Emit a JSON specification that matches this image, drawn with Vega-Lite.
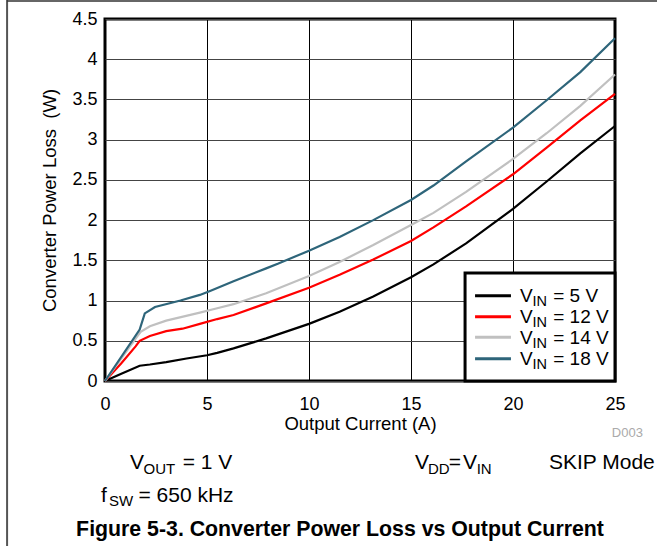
{
  "$schema": "https://vega.github.io/schema/vega-lite/v6.json",
  "width": 510,
  "height": 362,
  "autosize": {"type": "none"},
  "padding": {"left": 105, "top": 19, "right": 42, "bottom": 165},
  "background": "white",
  "config": {
    "font": "Liberation Sans",
    "view": {"stroke": "#000000", "strokeWidth": 3},
    "axis": {
      "labelColor": "#000000",
      "titleColor": "#000000",
      "labelFont": "Liberation Sans",
      "titleFont": "Liberation Sans",
      "labelFontSize": 18,
      "titleFontSize": 18.5,
      "titleFontWeight": "normal",
      "domain": false,
      "ticks": false,
      "tickSize": 0,
      "labelFlush": false,
      "grid": true
    }
  },
  "datasets": {
    "curves": [
      {"I": 0, "P": 0, "s": "VIN = 5 V"},
      {"I": 0.8, "P": 0.09, "s": "VIN = 5 V"},
      {"I": 1.7, "P": 0.19, "s": "VIN = 5 V"},
      {"I": 2.2, "P": 0.205, "s": "VIN = 5 V"},
      {"I": 3, "P": 0.235, "s": "VIN = 5 V"},
      {"I": 4, "P": 0.28, "s": "VIN = 5 V"},
      {"I": 5, "P": 0.32, "s": "VIN = 5 V"},
      {"I": 5.5, "P": 0.35, "s": "VIN = 5 V"},
      {"I": 6.3, "P": 0.405, "s": "VIN = 5 V"},
      {"I": 7.9, "P": 0.53, "s": "VIN = 5 V"},
      {"I": 10, "P": 0.71, "s": "VIN = 5 V"},
      {"I": 11.5, "P": 0.86, "s": "VIN = 5 V"},
      {"I": 13.15, "P": 1.05, "s": "VIN = 5 V"},
      {"I": 15, "P": 1.29, "s": "VIN = 5 V"},
      {"I": 16.1, "P": 1.45, "s": "VIN = 5 V"},
      {"I": 17.7, "P": 1.71, "s": "VIN = 5 V"},
      {"I": 20, "P": 2.14, "s": "VIN = 5 V"},
      {"I": 21.65, "P": 2.48, "s": "VIN = 5 V"},
      {"I": 23.3, "P": 2.83, "s": "VIN = 5 V"},
      {"I": 25, "P": 3.17, "s": "VIN = 5 V"},
      {"I": 0, "P": 0, "s": "VIN = 12 V"},
      {"I": 0.8, "P": 0.22, "s": "VIN = 12 V"},
      {"I": 1.5, "P": 0.43, "s": "VIN = 12 V"},
      {"I": 1.7, "P": 0.5, "s": "VIN = 12 V"},
      {"I": 2.2, "P": 0.56, "s": "VIN = 12 V"},
      {"I": 3, "P": 0.62, "s": "VIN = 12 V"},
      {"I": 3.8, "P": 0.65, "s": "VIN = 12 V"},
      {"I": 4.65, "P": 0.71, "s": "VIN = 12 V"},
      {"I": 5.5, "P": 0.77, "s": "VIN = 12 V"},
      {"I": 6.3, "P": 0.82, "s": "VIN = 12 V"},
      {"I": 7.9, "P": 0.965, "s": "VIN = 12 V"},
      {"I": 10, "P": 1.16, "s": "VIN = 12 V"},
      {"I": 11.5, "P": 1.32, "s": "VIN = 12 V"},
      {"I": 13.15, "P": 1.51, "s": "VIN = 12 V"},
      {"I": 15, "P": 1.74, "s": "VIN = 12 V"},
      {"I": 16.1, "P": 1.91, "s": "VIN = 12 V"},
      {"I": 17.7, "P": 2.17, "s": "VIN = 12 V"},
      {"I": 20, "P": 2.57, "s": "VIN = 12 V"},
      {"I": 21.65, "P": 2.9, "s": "VIN = 12 V"},
      {"I": 23.3, "P": 3.24, "s": "VIN = 12 V"},
      {"I": 25, "P": 3.57, "s": "VIN = 12 V"},
      {"I": 0, "P": 0, "s": "VIN = 14 V"},
      {"I": 1.6, "P": 0.56, "s": "VIN = 14 V"},
      {"I": 1.75, "P": 0.61, "s": "VIN = 14 V"},
      {"I": 2.2, "P": 0.68, "s": "VIN = 14 V"},
      {"I": 3, "P": 0.75, "s": "VIN = 14 V"},
      {"I": 4.65, "P": 0.85, "s": "VIN = 14 V"},
      {"I": 5.5, "P": 0.905, "s": "VIN = 14 V"},
      {"I": 6.3, "P": 0.955, "s": "VIN = 14 V"},
      {"I": 7.9, "P": 1.09, "s": "VIN = 14 V"},
      {"I": 10, "P": 1.305, "s": "VIN = 14 V"},
      {"I": 11.5, "P": 1.48, "s": "VIN = 14 V"},
      {"I": 13.15, "P": 1.69, "s": "VIN = 14 V"},
      {"I": 15, "P": 1.94, "s": "VIN = 14 V"},
      {"I": 16.1, "P": 2.09, "s": "VIN = 14 V"},
      {"I": 17.7, "P": 2.35, "s": "VIN = 14 V"},
      {"I": 20, "P": 2.76, "s": "VIN = 14 V"},
      {"I": 21.65, "P": 3.08, "s": "VIN = 14 V"},
      {"I": 23.3, "P": 3.42, "s": "VIN = 14 V"},
      {"I": 25, "P": 3.81, "s": "VIN = 14 V"},
      {"I": 0, "P": 0, "s": "VIN = 18 V"},
      {"I": 1.7, "P": 0.64, "s": "VIN = 18 V"},
      {"I": 1.95, "P": 0.84, "s": "VIN = 18 V"},
      {"I": 2.45, "P": 0.92, "s": "VIN = 18 V"},
      {"I": 3.7, "P": 1.0, "s": "VIN = 18 V"},
      {"I": 4.65, "P": 1.07, "s": "VIN = 18 V"},
      {"I": 5.15, "P": 1.12, "s": "VIN = 18 V"},
      {"I": 6.3, "P": 1.24, "s": "VIN = 18 V"},
      {"I": 7.9, "P": 1.4, "s": "VIN = 18 V"},
      {"I": 8.5, "P": 1.46, "s": "VIN = 18 V"},
      {"I": 10, "P": 1.62, "s": "VIN = 18 V"},
      {"I": 11.5, "P": 1.79, "s": "VIN = 18 V"},
      {"I": 13.15, "P": 2.0, "s": "VIN = 18 V"},
      {"I": 15, "P": 2.25, "s": "VIN = 18 V"},
      {"I": 16.1, "P": 2.43, "s": "VIN = 18 V"},
      {"I": 17.7, "P": 2.73, "s": "VIN = 18 V"},
      {"I": 20, "P": 3.15, "s": "VIN = 18 V"},
      {"I": 21.65, "P": 3.49, "s": "VIN = 18 V"},
      {"I": 23.3, "P": 3.84, "s": "VIN = 18 V"},
      {"I": 25, "P": 4.26, "s": "VIN = 18 V"}
    ]
  },
  "layer": [
    {
      "data": {"name": "curves"},
      "mark": {"type": "line", "strokeWidth": 2.2, "interpolate": "linear"},
      "encoding": {
        "x": {
          "field": "I", "type": "quantitative",
          "scale": {"domain": [0, 25], "nice": false, "zero": false},
          "axis": {"title": "Output Current (A)", "values": [0, 5, 10, 15, 20, 25], "gridColor": "#000000", "gridWidth": 1, "labelPadding": 14, "titlePadding": 1}
        },
        "y": {
          "field": "P", "type": "quantitative",
          "scale": {"domain": [0, 4.5], "nice": false, "zero": false},
          "axis": {"title": "Converter Power Loss\u00a0 (W)", "format": ".1~f", "values": [0, 0.5, 1, 1.5, 2, 2.5, 3, 3.5, 4, 4.5], "gridColor": "#444444", "gridWidth": 1.2, "labelPadding": 8, "titlePadding": 12}
        },
        "color": {
          "field": "s", "type": "nominal",
          "scale": {"domain": ["VIN = 5 V", "VIN = 12 V", "VIN = 14 V", "VIN = 18 V"], "range": ["#000000", "#ff0000", "#c0c0c0", "#2e657a"]},
          "legend": null
        },
        "detail": {"field": "s"}
      }
    },
    {
      "data": {"values": [{}]},
      "mark": {"type": "rect", "fill": "#ffffff", "stroke": "#000000", "strokeWidth": 3},
      "encoding": {"x": {"datum": 17.65}, "x2": {"datum": 25}, "y": {"datum": 0}, "y2": {"datum": 1.343}}
    },
    {
      "data": {"values": [{}]},
      "mark": {"type": "rule", "stroke": "#000000", "strokeWidth": 3},
      "encoding": {"x": {"datum": 18.14}, "x2": {"datum": 19.9}, "y": {"datum": 1.06}}
    },
    {
      "data": {"values": [{}]},
      "mark": {"type": "rule", "stroke": "#ff0000", "strokeWidth": 3},
      "encoding": {"x": {"datum": 18.14}, "x2": {"datum": 19.9}, "y": {"datum": 0.799}}
    },
    {
      "data": {"values": [{}]},
      "mark": {"type": "rule", "stroke": "#c0c0c0", "strokeWidth": 3},
      "encoding": {"x": {"datum": 18.14}, "x2": {"datum": 19.9}, "y": {"datum": 0.543}}
    },
    {
      "data": {"values": [{}]},
      "mark": {"type": "rule", "stroke": "#2e657a", "strokeWidth": 3},
      "encoding": {"x": {"datum": 18.14}, "x2": {"datum": 19.9}, "y": {"datum": 0.277}}
    },
    {
      "data": {"values": [{}]},
      "mark": {"type": "text", "text": ["V", "V", "V", "V"], "fontSize": 19, "lineHeight": 21, "align": "left", "baseline": "alphabetic", "color": "#000000"},
      "encoding": {"x": {"datum": 20.34}, "y": {"datum": 0.986}}
    },
    {
      "data": {"values": [{}]},
      "mark": {"type": "text", "text": ["IN", "IN", "IN", "IN"], "fontSize": 14.5, "lineHeight": 21, "align": "left", "baseline": "alphabetic", "color": "#000000"},
      "encoding": {"x": {"datum": 20.96}, "y": {"datum": 0.932}}
    },
    {
      "data": {"values": [{}]},
      "mark": {"type": "text", "text": ["= 5 V", "= 12 V", "= 14 V", "= 18 V"], "fontSize": 19, "lineHeight": 21, "align": "left", "baseline": "alphabetic", "color": "#000000"},
      "encoding": {"x": {"datum": 21.97}, "y": {"datum": 0.986}}
    },
    {
      "data": {"values": [{}]},
      "mark": {"type": "rule", "stroke": "#555555", "strokeWidth": 2},
      "encoding": {"x": {"datum": -4.8}, "y": {"datum": 4.75}, "y2": {"datum": -2.3}}
    },
    {
      "data": {"values": [{}]},
      "mark": {"type": "rule", "stroke": "#333333", "strokeWidth": 1.5},
      "encoding": {"x": {"datum": -4.8}, "x2": {"datum": 27.5}, "y": {"datum": 4.724}}
    },
    {
      "data": {"values": [{}]},
      "mark": {"type": "text", "text": "D003", "fontSize": 13, "align": "right", "baseline": "alphabetic", "color": "#aaaaaa"},
      "encoding": {"x": {"datum": 26.37}, "y": {"datum": -0.701}}
    },
    {
      "data": {"values": [{}]},
      "mark": {"type": "text", "text": "V", "fontSize": 21, "align": "left", "baseline": "alphabetic", "color": "#000000"},
      "encoding": {"x": {"datum": 1.225}, "y": {"datum": -1.098}}
    },
    {
      "data": {"values": [{}]},
      "mark": {"type": "text", "text": "OUT", "fontSize": 15, "align": "left", "baseline": "alphabetic", "color": "#000000"},
      "encoding": {"x": {"datum": 1.887}, "y": {"datum": -1.15}}
    },
    {
      "data": {"values": [{}]},
      "mark": {"type": "text", "text": "= 1 V", "fontSize": 21, "align": "left", "baseline": "alphabetic", "color": "#000000"},
      "encoding": {"x": {"datum": 3.81}, "y": {"datum": -1.098}}
    },
    {
      "data": {"values": [{}]},
      "mark": {"type": "text", "text": "f", "fontSize": 21, "align": "left", "baseline": "alphabetic", "color": "#000000"},
      "encoding": {"x": {"datum": -0.196}, "y": {"datum": -1.5}}
    },
    {
      "data": {"values": [{}]},
      "mark": {"type": "text", "text": "SW", "fontSize": 15, "align": "left", "baseline": "alphabetic", "color": "#000000"},
      "encoding": {"x": {"datum": 0.196}, "y": {"datum": -1.548}}
    },
    {
      "data": {"values": [{}]},
      "mark": {"type": "text", "text": "= 650 kHz", "fontSize": 21, "align": "left", "baseline": "alphabetic", "color": "#000000"},
      "encoding": {"x": {"datum": 1.64}, "y": {"datum": -1.5}}
    },
    {
      "data": {"values": [{}]},
      "mark": {"type": "text", "text": "V", "fontSize": 21, "align": "left", "baseline": "alphabetic", "color": "#000000"},
      "encoding": {"x": {"datum": 15.196}, "y": {"datum": -1.098}}
    },
    {
      "data": {"values": [{}]},
      "mark": {"type": "text", "text": "DD", "fontSize": 15, "align": "left", "baseline": "alphabetic", "color": "#000000"},
      "encoding": {"x": {"datum": 15.83}, "y": {"datum": -1.15}}
    },
    {
      "data": {"values": [{}]},
      "mark": {"type": "text", "text": "=", "fontSize": 21, "align": "left", "baseline": "alphabetic", "color": "#000000"},
      "encoding": {"x": {"datum": 16.85}, "y": {"datum": -1.098}}
    },
    {
      "data": {"values": [{}]},
      "mark": {"type": "text", "text": "V", "fontSize": 21, "align": "left", "baseline": "alphabetic", "color": "#000000"},
      "encoding": {"x": {"datum": 17.55}, "y": {"datum": -1.098}}
    },
    {
      "data": {"values": [{}]},
      "mark": {"type": "text", "text": "IN", "fontSize": 15, "align": "left", "baseline": "alphabetic", "color": "#000000"},
      "encoding": {"x": {"datum": 18.22}, "y": {"datum": -1.15}}
    },
    {
      "data": {"values": [{}]},
      "mark": {"type": "text", "text": "SKIP Mode", "fontSize": 21, "align": "left", "baseline": "alphabetic", "color": "#000000"},
      "encoding": {"x": {"datum": 21.76}, "y": {"datum": -1.098}}
    },
    {
      "data": {"values": [{}]},
      "mark": {"type": "text", "text": "Figure 5-3. Converter Power Loss vs Output Current", "fontSize": 21.3, "fontWeight": "bold", "align": "center", "baseline": "alphabetic", "color": "#000000"},
      "encoding": {"x": {"datum": 11.52}, "y": {"datum": -1.927}}
    }
  ]
}
